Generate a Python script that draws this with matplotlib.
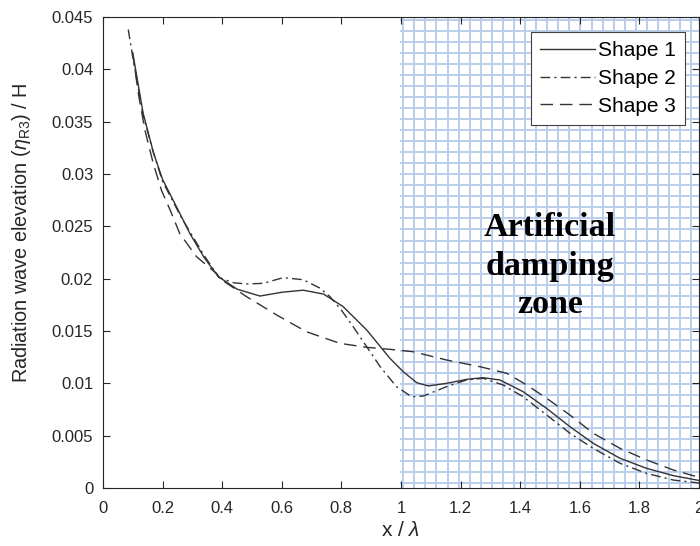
import numpy as np
import matplotlib
matplotlib.use("Agg")
import matplotlib.pyplot as plt

# ---- data ----
x1 = [0.1, 0.135, 0.17, 0.2, 0.264, 0.292, 0.34, 0.387, 0.45, 0.527, 0.6, 0.672, 0.74, 0.806,
      0.885, 0.963, 1.008, 1.053, 1.092, 1.153, 1.22, 1.276, 1.332, 1.41, 1.489, 1.567, 1.645,
      1.735, 1.824, 1.914, 2.0]
y1 = [0.0416, 0.0358, 0.032, 0.0295, 0.0259, 0.0243, 0.022, 0.0202, 0.019, 0.01834, 0.0187,
      0.0189, 0.01853, 0.01733, 0.0151, 0.01239, 0.0111, 0.01006, 0.00975, 0.0100, 0.01038,
      0.01054, 0.01032, 0.0092, 0.0076, 0.00586, 0.00427, 0.00284, 0.00188, 0.00118, 0.00072]

x2 = [0.085, 0.1, 0.135, 0.17, 0.2, 0.264, 0.34, 0.39, 0.44, 0.482, 0.538, 0.605, 0.672, 0.728,
      0.762, 0.8, 0.84, 0.885, 0.93, 0.985, 1.036, 1.075, 1.153, 1.22, 1.276, 1.343, 1.41,
      1.489, 1.567, 1.645, 1.735, 1.824, 1.914, 2.0]
y2 = [0.0438, 0.0412, 0.0356, 0.032, 0.0293, 0.0258, 0.0222, 0.0201, 0.0196, 0.0195, 0.01955,
      0.0201, 0.0199, 0.0191, 0.01828, 0.0170, 0.0154, 0.0135, 0.0116, 0.00968, 0.00872,
      0.00879, 0.00968, 0.01032, 0.01048, 0.00984, 0.00872, 0.00697, 0.00523, 0.00379,
      0.00236, 0.0014, 0.00076, 0.00048]

x3 = [0.1, 0.12, 0.141, 0.169, 0.197, 0.225, 0.258, 0.314, 0.381, 0.393, 0.482, 0.583, 0.683,
      0.795, 0.885, 0.963, 1.041, 1.153, 1.265, 1.355, 1.422, 1.489, 1.567, 1.645, 1.735,
      1.824, 1.914, 2.0]
y3 = [0.0415, 0.0375, 0.0342, 0.031, 0.0284, 0.0266, 0.0243, 0.0221, 0.0205, 0.0200, 0.01828,
      0.01653, 0.01493, 0.01382, 0.01344, 0.01325, 0.01302, 0.01223, 0.01159, 0.01096,
      0.00984, 0.00857, 0.00697, 0.00523, 0.00379, 0.00268, 0.00172, 0.00102]

labels = ["Shape 1", "Shape 2", "Shape 3"]
xticks = [0, 0.2, 0.4, 0.6, 0.8, 1.0, 1.2, 1.4, 1.6, 1.8, 2.0]
xticklabels = ["0", "0.2", "0.4", "0.6", "0.8", "1", "1.2", "1.4", "1.6", "1.8", "2"]
yticks = [0, 0.005, 0.01, 0.015, 0.02, 0.025, 0.03, 0.035, 0.04, 0.045]
yticklabels = ["0", "0.005", "0.01", "0.015", "0.02", "0.025", "0.03", "0.035", "0.04", "0.045"]

# damping-zone mesh
zone_x0, zone_x1 = 1.0, 2.0
mesh_vx0, mesh_dx, mesh_nx = 1.0077, 0.03716, 27
mesh_hy0, mesh_dy, mesh_ny = 0.00048, 0.001053, 43

plt.rcParams['font.family'] = ['Liberation Sans', 'DejaVu Sans']
plt.rcParams['mathtext.fontset'] = 'custom'
plt.rcParams['mathtext.rm'] = 'Liberation Sans'
plt.rcParams['mathtext.it'] = 'Liberation Sans:italic'

fig = plt.figure(figsize=(7.0, 5.46), dpi=100)
ax = fig.add_axes([0.147, 0.1062, 0.8516, 0.8627])

grid_c = '#bacdec'
for k in range(mesh_nx):
    xv = mesh_vx0 + k * mesh_dx
    ax.plot([xv, xv], [0, 0.045], color=grid_c, lw=1.4, zorder=1)
for k in range(mesh_ny):
    yv = mesh_hy0 + k * mesh_dy
    ax.plot([zone_x0, zone_x1], [yv, yv], color=grid_c, lw=1.4, zorder=1)

lc = '#333333'
ax.plot(x1, y1, color=lc, lw=1.0, ls='-', label=labels[0], zorder=3)
ax.plot(x2, y2, color=lc, lw=1.0, ls=(0, (7, 3, 1.5, 3)), label=labels[1], zorder=3)
ax.plot(x3, y3, color=lc, lw=1.0, ls=(0, (9, 5)), label=labels[2], zorder=3)

ax.text(1.5, 0.0212, "Artificial\ndamping\nzone", ha='center', va='center',
        multialignment='center', fontsize=24.5, fontweight='bold',
        family='Liberation Serif', linespacing=1.3, zorder=4)

ax.set_xlim(0, 2)
ax.set_ylim(0, 0.045)
ax.set_xticks(xticks)
ax.set_xticklabels(xticklabels)
ax.set_yticks(yticks)
ax.set_yticklabels(yticklabels)
ax.tick_params(direction='in', top=True, right=True, length=5, width=0.8,
               labelsize=12, colors='#262626')
ax.tick_params(axis='x', pad=9)
ax.tick_params(axis='y', pad=7)
for s in ax.spines.values():
    s.set_color('#262626')
    s.set_linewidth(0.8)

ax.set_xlabel(r'x / $\lambda$', fontsize=15, color='#262626', labelpad=4)
ax.set_ylabel(r'Radiation wave elevation ($\eta_{\rm R3}$) / H', fontsize=14.3,
              color='#262626')
ax.yaxis.set_label_coords(-0.1174, 0.541)

leg = ax.legend(loc='upper right', bbox_to_anchor=(0.9765, 0.9687), fontsize=15,
                frameon=True, fancybox=False, edgecolor='#404040', framealpha=1,
                handlelength=2.6, handletextpad=0.15, labelspacing=0.42,
                borderpad=0.45, borderaxespad=0)
leg.get_frame().set_linewidth(0.8)
leg.set_zorder(5)

fig.savefig("out.png", dpi=100)
